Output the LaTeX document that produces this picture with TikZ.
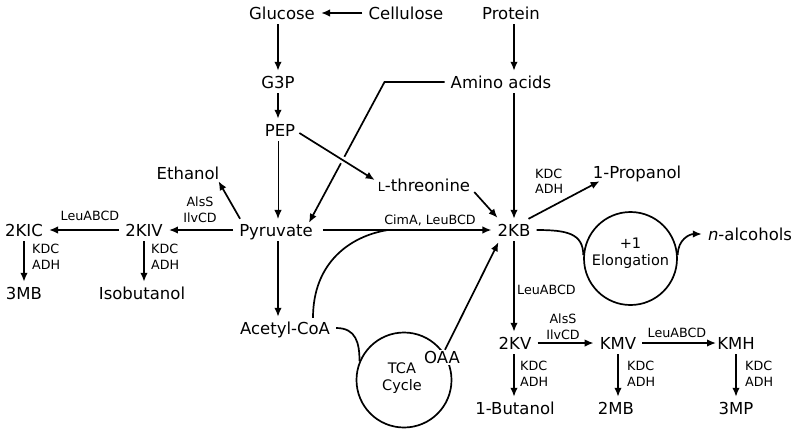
\documentclass[tikz,border=0pt]{standalone}
\usepackage{fontspec}
\setmainfont{DejaVu Sans}
\usetikzlibrary{arrows.meta,calc}
\begin{document}
\begin{tikzpicture}[x=1pt,y=-1pt,
  mol/.style={font=\fontsize{16.5}{19}\selectfont, inner xsep=6pt, inner ysep=5pt, text height=12pt, text depth=0pt},
  enz/.style={font=\fontsize{12.7}{15.5}\selectfont, inner sep=0pt, align=center},
  enzl/.style={font=\fontsize{12.7}{15.5}\selectfont, inner sep=0pt, align=left, anchor=west},
  arr/.style={line width=1.7pt, -{Latex[length=9pt,width=7.5pt]}},
  thinarr/.style={line width=1pt, -{Latex[length=9pt,width=7.5pt]}},
  link/.style={line width=1.7pt},
  cyc/.style={circle, draw, line width=1.7pt, inner sep=0pt},
  cyctext/.style={font=\fontsize{14.5}{17}\selectfont, align=center, inner sep=0pt}
]
\useasboundingbox (0,0) rectangle (797,432);

% molecules
\node[mol] (glucose)   at (282,13)  {Glucose};
\node[mol] (cellulose) at (406,13)  {Cellulose};
\node[mol] (protein)   at (511,13)  {Protein};
\node[mol] (g3p)       at (278,82)  {G3P};
\node[mol] (amino)     at (501,82)  {Amino acids};
\node[mol] (pep)       at (280,130) {PEP};
\node[mol] (thr)       at (424,185) {{\fontsize{12.5}{12}\selectfont L}-threonine};
\node[mol] (ethanol)   at (188,173) {Ethanol};
\node[mol] (pyr)       at (276,230) {Pyruvate};
\node[mol] (kb)        at (514,230) {2KB};
\node[mol] (kiv)       at (144,230) {2KIV};
\node[mol] (kic)       at (24,230)  {2KIC};
\node[mol] (mb3)       at (24,293)  {3MB};
\node[mol] (isobut)    at (142,293) {Isobutanol};
\node[mol] (propanol)  at (637,172) {1-Propanol};
\node[mol] (nalc)      at (750,234) {\textit{n}-alcohols};
\node[mol] (kv)        at (515,343) {2KV};
\node[mol] (kmv)       at (618,343) {KMV};
\node[mol] (kmh)       at (736,343) {KMH};
\node[mol] (butanol)   at (515,408) {1-Butanol};
\node[mol] (mb2)       at (616,408) {2MB};
\node[mol] (mp3)       at (736,408) {3MP};
\node[mol] (acetyl)    at (285,328) {Acetyl-CoA};

% cycles
\node[cyc, minimum size=93pt] (elong) at (630.5,258.5) {};
\node[cyctext] (elongtext) at (630.5,253.5) {+1\\Elongation};
\node[cyc, minimum size=95pt] (tca) at (404,380) {};
\node[cyctext] (tcatext) at (402,378.5) {TCA\\Cycle};
\node[mol, inner sep=1.5pt, fill=white] (oaa) at (442,357.5) {OAA};

% enzyme labels
\node[enz]  (e1) at (200,210) {AlsS\\IlvCD};
\node[enz]  (e2) at (90,216)  {LeuABCD};
\node[enzl] (e3) at (32,257)  {KDC\\ADH};
\node[enzl] (e4) at (151,257) {KDC\\ADH};
\node[enz]  (e5) at (430,220) {CimA, LeuBCD};
\node[enzl] (e6) at (535,181.5) {KDC\\ADH};
\node[enzl] (e7) at (517,290) {LeuABCD};
\node[enz]  (e8) at (563,327) {AlsS\\IlvCD};
\node[enz]  (e9) at (677,333) {LeuABCD};
\node[enzl] (e10) at (520,374) {KDC\\ADH};
\node[enzl] (e11) at (627,374) {KDC\\ADH};
\node[enzl] (e12) at (745,374) {KDC\\ADH};

% top
\draw[arr] (cellulose) -- (glucose);
\draw[arr] (glucose.south -| g3p) -- (g3p.north);
\draw[arr] (protein.south -| kb) -- (amino.north -| kb);
\draw[arr] (g3p.south) -- (pep.north -| g3p);
\draw[thinarr] (pep.south -| g3p) -- (pyr.north -| g3p);
\draw[arr] (pyr.south -| g3p) -- (acetyl.north -| g3p);
\draw[arr] (amino.south -| kb) -- (kb.north);

% amino acids to pyruvate
\draw[arr] (amino.west) -- ++(-60,0) -- ($(pyr.north east)+(-10,4)$);
% PEP to threonine (bridges over)
\draw[arr, preaction={draw=white, line width=7pt, -}] ($(pep.east)+(-2,3)$) -- ($(thr.west)+(3,-5)$);
\draw[arr] ($(thr.east)+(-2,7)$) -- ($(kb.north west)+(6,-1)$);

% pyruvate branches
\coordinate (join) at ($(pyr.east)!0.4!(kb.west)$);
\draw[arr, shorten <=4pt] (pyr.east) -- (kb.west);
\draw[arr] ($(pyr.north west)+(7,0)$) -- ($(ethanol.south east)+(-7,-3)$);
\draw[arr] (pyr.west) -- (kiv.east);
\draw[arr] (kiv.west) -- (kic.east);
\draw[arr] (kic.south) -- (mb3.north);
\draw[arr] (kiv.south) -- (isobut.north -| kiv);

% 2KB branches
\draw[arr] ($(kb.north east)+(-8,0)$) -- ($(propanol.south west)+(13,-2)$);
\draw[link] (kb.east) .. controls +(30,0) and +(0,-22) .. (elong.176);
\draw[arr] (elong.4) .. controls +(0,-16) and +(-12,0) .. (nalc.west);
\draw[arr] (kb.south) -- (kv.north -| kb);
\draw[arr] (kv.east) -- (kmv.west);
\draw[arr, shorten >=-5pt] (kmv.east) -- (kmh.west);
\draw[arr] (kv.south -| kb) -- (butanol.north -| kb);
\draw[arr] (kmv.south) -- (mb2.north -| kmv);
\draw[arr] (kmh.south) -- (mp3.north -| kmh);

% TCA links
\draw[link] ($(acetyl.north)+(28,1)$) .. controls +(0,-55) and +(-38,6) .. (join);
\draw[link] (acetyl.east) .. controls +(20,0) and +(0,-18) .. (tca.157);
\draw[arr] ($(oaa.north)+(3,0)$) -- ($(kb.south west)+(7,1)$);
\end{tikzpicture}
\end{document}
